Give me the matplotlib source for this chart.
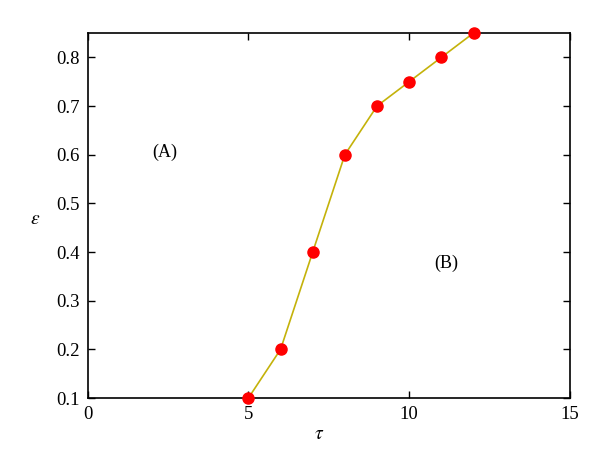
import matplotlib
matplotlib.use("Agg")
import matplotlib.pyplot as plt

tau = [5, 6, 7, 8, 9, 10, 11, 12]
eps = [0.1, 0.2, 0.4, 0.6, 0.7, 0.75, 0.8, 0.85]
xticks = [0, 5, 10, 15]
yticks = [0.1, 0.2, 0.3, 0.4, 0.5, 0.6, 0.7, 0.8]

plt.rcParams["font.family"] = ["Liberation Serif", "DejaVu Serif"]
plt.rcParams["mathtext.fontset"] = "stix"

fig = plt.figure(figsize=(6, 4.65), dpi=100)
ax = fig.add_axes([0.146, 0.144, 0.804, 0.785])

ax.plot(tau, eps, color="#c4b20a", linewidth=1.2, zorder=2)
ax.plot(tau, eps, "o", color="#ff0000", markersize=8, zorder=3, clip_on=False)

ax.set_xlim(0, 15)
ax.set_ylim(0.1, 0.85)
ax.set_xticks(xticks)
ax.set_yticks(yticks)
ax.set_yticklabels([f"{v:.1f}" for v in yticks])
ax.tick_params(direction="in", top=True, right=True, labelsize=13.5,
               length=5, width=1, pad=6)
for s in ax.spines.values():
    s.set_linewidth(1.2)

ax.set_xlabel(r"$\tau$", fontsize=14, va="center")
ax.set_ylabel(r"$\varepsilon$", fontsize=14, rotation=0, va="center")
ax.xaxis.set_label_coords(0.48, -0.1)
ax.yaxis.set_label_coords(-0.108, 0.49)

ax.text(2.41, 0.605, "(A)", fontsize=13, ha="center", va="center")
ax.text(11.14, 0.377, "(B)", fontsize=13, ha="center", va="center")

fig.savefig("out.png", dpi=100)
